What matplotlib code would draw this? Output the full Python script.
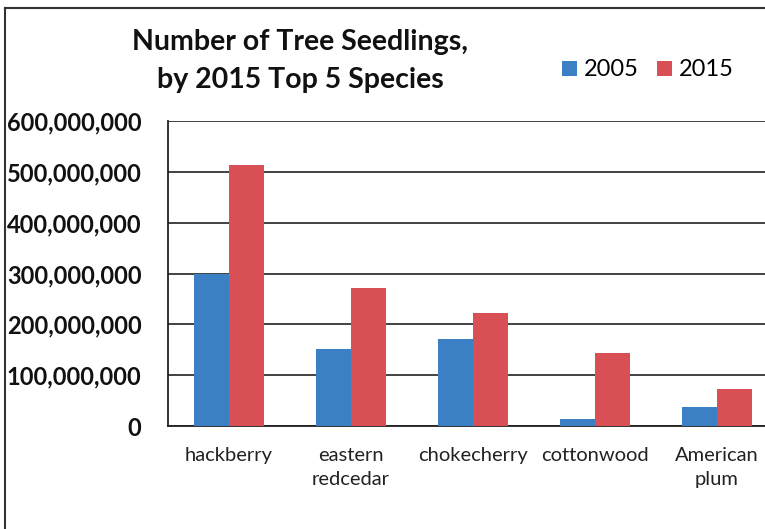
import matplotlib
matplotlib.use("Agg")
import matplotlib.pyplot as plt
from matplotlib.lines import Line2D
from matplotlib.ticker import FuncFormatter
import numpy as np

plt.rcParams['font.family'] = ['Lato', 'DejaVu Sans']

categories = ["hackberry", "eastern\nredcedar", "chokecherry", "cottonwood", "American\nplum"]
values_2005 = [300e6, 152e6, 171e6, 13e6, 38e6]
values_2015 = [514e6, 272e6, 223e6, 143e6, 72e6]
series_names = ["2005", "2015"]
yticks = [0, 100e6, 200e6, 300e6, 400e6, 500e6, 600e6]
title = "Number of Tree Seedlings,\nby 2015 Top 5 Species"

color_2005 = "#3b7fc4"
color_2015 = "#d94f56"

fig = plt.figure(figsize=(7.65, 5.29), dpi=100)
ax = fig.add_axes([168/765, 103/529, 610/765, 305/529])

x = np.arange(len(categories))
w = 0.283
ax.bar(x - w/2, values_2005, width=w, color=color_2005, label=series_names[0], zorder=3)
ax.bar(x + w/2, values_2015, width=w, color=color_2015, label=series_names[1], zorder=3)

ax.set_xlim(-0.5, len(categories) - 0.5)
ax.set_ylim(0, 600e6)
ax.set_yticks(yticks)
ax.yaxis.set_major_formatter(FuncFormatter(lambda v, p: f"{int(v):,}"))
ax.set_xticks(x)
ax.set_xticklabels(categories, fontsize=14.5, color="#222222", linespacing=1.5)
for lab in ax.get_yticklabels():
    lab.set_fontweight("bold")
    lab.set_fontsize(17)
    lab.set_color("#111111")
ax.tick_params(axis="both", length=0)
ax.tick_params(axis="y", pad=19)
ax.tick_params(axis="x", pad=15)

ax.grid(axis="y", color="#333333", linewidth=1.3, zorder=0)
for s in ["top", "right"]:
    ax.spines[s].set_visible(False)
ax.spines["left"].set_color("#222222")
ax.spines["left"].set_linewidth(1.3)
ax.spines["bottom"].set_color("#222222")
ax.spines["bottom"].set_linewidth(1.3)

fig.text(300/765, 1 - 61/529, title, ha="center", va="center", fontsize=20.5,
         fontweight="bold", color="#111111", linespacing=1.6)

fig.legend(loc="center", bbox_to_anchor=(648/765, 1 - 70/529), ncol=2, frameon=False,
           fontsize=17, handlelength=0.6, handleheight=0.6, handletextpad=0.3,
           columnspacing=0.8)

# outer chart frame
fig.add_artist(Line2D([5/765, 5/765], [0, 1 - 8/529], transform=fig.transFigure,
                      color="#333333", linewidth=1.5))
fig.add_artist(Line2D([5/765, 1], [1 - 8/529, 1 - 8/529], transform=fig.transFigure,
                      color="#333333", linewidth=1.5))

fig.savefig("out.png", dpi=100)
